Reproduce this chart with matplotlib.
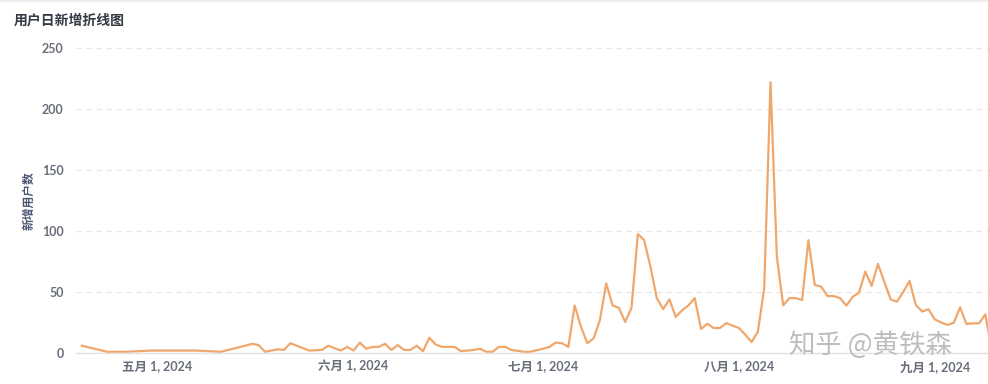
import matplotlib
matplotlib.use("Agg")
import matplotlib.pyplot as plt
import pandas as pd
from matplotlib.lines import Line2D

# daily new users
DATES = [
    "2024-04-19", "2024-04-23", "2024-04-26", "2024-04-30", "2024-05-07", "2024-05-11",
    "2024-05-16", "2024-05-17", "2024-05-18", "2024-05-20", "2024-05-21", "2024-05-22",
    "2024-05-25", "2024-05-27", "2024-05-28", "2024-05-30", "2024-05-31",
    "2024-06-01", "2024-06-02", "2024-06-03", "2024-06-04", "2024-06-05", "2024-06-06",
    "2024-06-07", "2024-06-08", "2024-06-09", "2024-06-10", "2024-06-11", "2024-06-12",
    "2024-06-13", "2024-06-14", "2024-06-15", "2024-06-17", "2024-06-18", "2024-06-20",
    "2024-06-21", "2024-06-22", "2024-06-23", "2024-06-24", "2024-06-25", "2024-06-26",
    "2024-06-28", "2024-06-29",
    "2024-07-01", "2024-07-02", "2024-07-03", "2024-07-04", "2024-07-05", "2024-07-06",
    "2024-07-07", "2024-07-08", "2024-07-09", "2024-07-10", "2024-07-11", "2024-07-12",
    "2024-07-13", "2024-07-14", "2024-07-15", "2024-07-16", "2024-07-17", "2024-07-18",
    "2024-07-19", "2024-07-20", "2024-07-21", "2024-07-22", "2024-07-23", "2024-07-24",
    "2024-07-25", "2024-07-26", "2024-07-27", "2024-07-28", "2024-07-29", "2024-07-30",
    "2024-07-31",
    "2024-08-01", "2024-08-02", "2024-08-03", "2024-08-04", "2024-08-05", "2024-08-06",
    "2024-08-07", "2024-08-08", "2024-08-09", "2024-08-10", "2024-08-11", "2024-08-12",
    "2024-08-13", "2024-08-14", "2024-08-15", "2024-08-16", "2024-08-17", "2024-08-18",
    "2024-08-19", "2024-08-20", "2024-08-21", "2024-08-22", "2024-08-23", "2024-08-24",
    "2024-08-25", "2024-08-26", "2024-08-27", "2024-08-28", "2024-08-29", "2024-08-30",
    "2024-08-31",
    "2024-09-01", "2024-09-02", "2024-09-03", "2024-09-04", "2024-09-05", "2024-09-06",
    "2024-09-07", "2024-09-08", "2024-09-09", "2024-09-10",
]
NEW_USERS = [
    6, 1, 1, 2, 2, 1,
    7.5, 6.5, 1, 3, 2.5, 8,
    2, 2.5, 6, 2, 5,
    2, 8.5, 3.5, 5, 5, 7.5,
    2.5, 6.5, 2.5, 2.5, 6, 1.5,
    12.5, 7, 5, 5, 1.5, 2.5,
    3.5, 1, 1, 5, 5, 2.5,
    1, 1,
    3.5, 5, 8.5, 8, 5, 39,
    21.5, 8, 12, 27, 57, 39,
    37, 25.5, 37, 97.5, 92.5, 70.7,
    45, 36, 44, 29.5, 35, 39,
    45, 19.7, 24, 20.5, 20.5, 24.5,
    22.4,
    20.5, 15, 9, 17.5, 53, 222,
    79, 39, 45, 45, 43.4, 92.5,
    55.7, 54.5, 46.7, 46.7, 45, 38.8,
    46, 49.5, 66.7, 55, 73, 58.5,
    44, 42, 50, 59, 39.3, 34,
    35.8,
    27.6, 25, 23, 24.8, 37.4, 23.8,
    24.3, 24.3, 31.7, 2,
]

TICK_DATES = ["2024-05-01", "2024-06-01", "2024-07-01", "2024-08-01", "2024-09-01"]
TICK_LABELS = ["五月 1, 2024", "六月 1, 2024", "七月 1, 2024", "八月 1, 2024", "九月 1, 2024"]
Y_TICKS = [0, 50, 100, 150, 200, 250]

FONTS = ["Lato", "Noto Sans CJK SC", "DejaVu Sans"]
plt.rcParams["font.family"] = FONTS

df = pd.DataFrame({"date": pd.to_datetime(DATES), "users": NEW_USERS})

fig = plt.figure(figsize=(9.88, 3.84), dpi=100)
ax = fig.add_axes([76 / 988, 31 / 384, 912 / 988, 305 / 384])

ax.plot(df["date"], df["users"], color="#F0A76C", linewidth=1.6, clip_on=True)

# axes ranges
ax.set_ylim(0, 250)
ax.set_xlim(pd.Timestamp("2024-04-18 02:00"), pd.Timestamp("2024-09-09 10:00"))

ax.set_yticks(Y_TICKS)
ax.set_xticks(pd.to_datetime(TICK_DATES))
ax.set_xticklabels(TICK_LABELS)

for lab in ax.get_xticklabels() + ax.get_yticklabels():
    lab.set_fontweight("bold")
ax.tick_params(axis="both", length=0, labelsize=9, colors="#696E7B")
ax.tick_params(axis="y", pad=9)
ax.tick_params(axis="x", pad=5)

ax.grid(axis="y", color="#E4E6E9", linestyle=(0, (5, 4)), linewidth=0.8)
ax.set_axisbelow(True)
for side in ["top", "right", "left"]:
    ax.spines[side].set_visible(False)
ax.spines["bottom"].set_color("#E0E2E5")
ax.spines["bottom"].set_linewidth(1.0)

ax.set_ylabel("新增用户数", fontsize=8.5, color="#4C5773", fontweight="bold")
ax.yaxis.set_label_coords(-0.045, 0.5)

fig.text(14 / 988, 1 - 20 / 384, "用户日新增折线图", fontsize=10, fontweight="bold",
         color="#353A45", ha="left", va="center")

# watermark
fig.text(870 / 988, 1 - 345 / 384, "知乎 @黄铁森", fontsize=19, color="#BDBDBD",
         ha="center", va="center", family=["Noto Sans CJK SC", "DejaVu Sans"])

# faint card border at the top
fig.add_artist(Line2D([0, 1], [0.997, 0.997], color="#EEEEEE", linewidth=1.5,
                      transform=fig.transFigure))

fig.savefig("out.png", dpi=100)
